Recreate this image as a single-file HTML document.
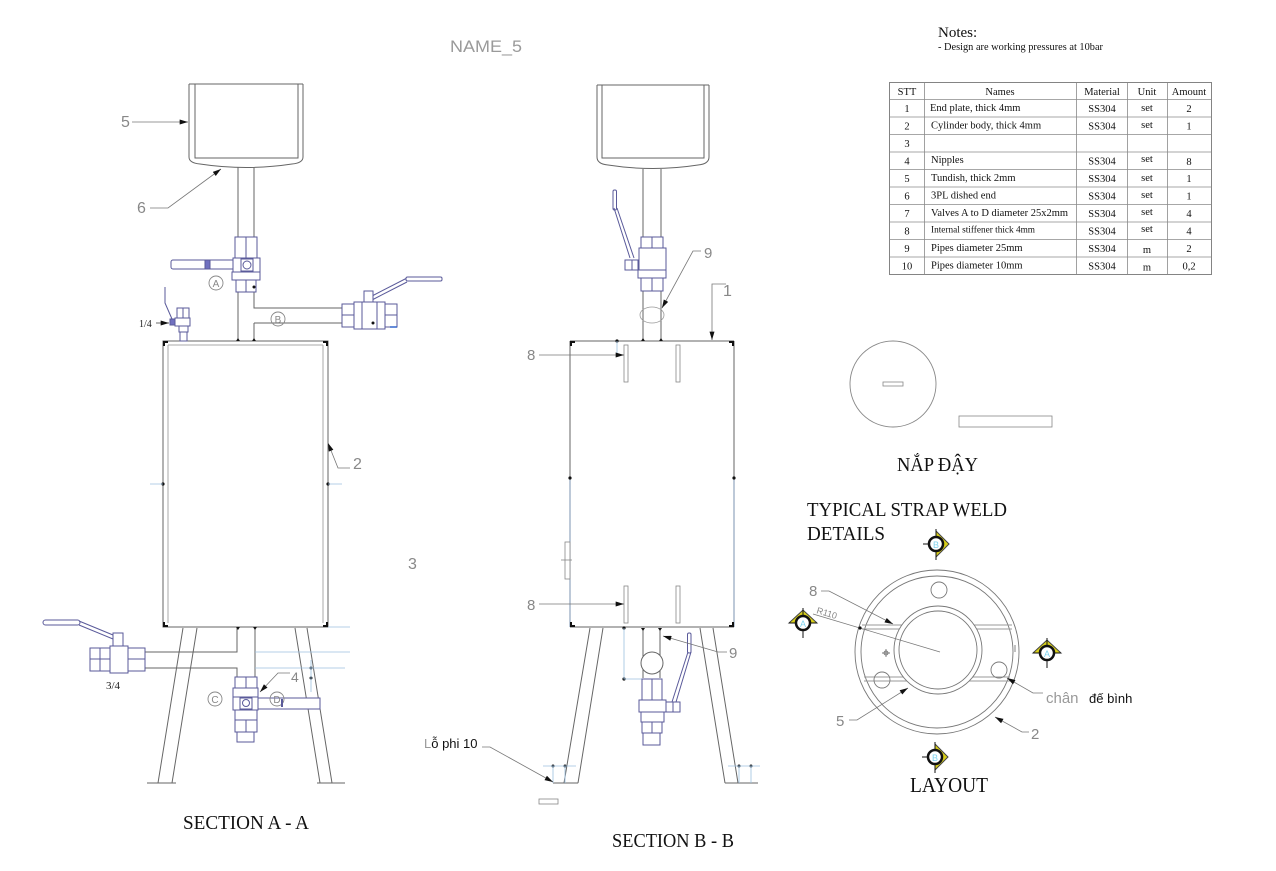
<!DOCTYPE html>
<html><head><meta charset="utf-8"><style>
html,body{margin:0;padding:0;background:#fff;}
svg{display:block;}
.s{font-family:"Liberation Serif","Noto Serif CJK SC",serif;}
.a{font-family:"Liberation Sans","Noto Sans CJK SC",sans-serif;}
</style></head><body>
<svg width="1276" height="871" viewBox="0 0 1276 871" xmlns="http://www.w3.org/2000/svg">
<defs>
<marker id="ar" viewBox="0 0 10 6" refX="10" refY="3" markerWidth="10" markerHeight="5" orient="auto" markerUnits="userSpaceOnUse"><path d="M0,0 L10,3 L0,6 Z" fill="#111"/></marker>
</defs>
<rect width="1276" height="871" fill="#fff"/>

<!-- Title -->
<text x="486" y="52" text-anchor="middle" font-size="17" fill="#9a9a9a" class="a" textLength="72" lengthAdjust="spacingAndGlyphs">NAME_5</text>

<!-- Notes -->
<text x="938" y="37" font-size="15" class="s" fill="#111">Notes:</text>
<text x="938" y="50" font-size="10.5" class="s" fill="#111" textLength="165" lengthAdjust="spacingAndGlyphs">- Design are working pressures at 10bar</text>

<!-- Table -->
<g stroke="#8a8a8a" stroke-width="0.8" fill="none">
<rect x="889.5" y="82.5" width="322" height="192" stroke="#666"/>
<path d="M889.5,99.5H1211.5M889.5,117H1211.5M889.5,134.5H1211.5M889.5,152H1211.5M889.5,169.5H1211.5M889.5,187H1211.5M889.5,204.5H1211.5M889.5,222H1211.5M889.5,239.5H1211.5M889.5,257H1211.5"/>
<path d="M924.5,82.5V274.5M1076.5,82.5V274.5M1127.5,82.5V274.5M1167.5,82.5V274.5"/>
</g>
<g class="s" font-size="10.5" fill="#111">
<g text-anchor="middle">
<text x="907" y="95">STT</text><text x="1000" y="95">Names</text><text x="1102" y="95">Material</text><text x="1147" y="95">Unit</text><text x="1189" y="95">Amount</text>
<text x="907" y="112">1</text><text x="907" y="129.5">2</text><text x="907" y="147">3</text><text x="907" y="164.5">4</text><text x="907" y="182">5</text><text x="907" y="199.5">6</text><text x="907" y="217">7</text><text x="907" y="234.5">8</text><text x="907" y="252">9</text><text x="907" y="269.5">10</text>
<text x="1102" y="112">SS304</text><text x="1102" y="129.5">SS304</text><text x="1102" y="164.5">SS304</text><text x="1102" y="182">SS304</text><text x="1102" y="199.5">SS304</text><text x="1102" y="217">SS304</text><text x="1102" y="234.5">SS304</text><text x="1102" y="252">SS304</text><text x="1102" y="269.5">SS304</text>
<text x="1147" y="111">set</text><text x="1147" y="128">set</text><text x="1147" y="162">set</text><text x="1147" y="181">set</text><text x="1147" y="198">set</text><text x="1147" y="215">set</text><text x="1147" y="232">set</text><text x="1147" y="253">m</text><text x="1147" y="270.5">m</text>
<text x="1189" y="112">2</text><text x="1189" y="129.5">1</text><text x="1189" y="165">8</text><text x="1189" y="182">1</text><text x="1189" y="199.5">1</text><text x="1189" y="217">4</text><text x="1189" y="234.5">4</text><text x="1189" y="252">2</text><text x="1189" y="269.5">0,2</text>
</g>
<text x="930" y="111">End plate, thick 4mm</text>
<text x="931" y="128.5">Cylinder body, thick 4mm</text>
<text x="931" y="163">Nipples</text>
<text x="931" y="181">Tundish, thick 2mm</text>
<text x="931" y="198.5">3PL dished end</text>
<text x="931" y="216" textLength="137" lengthAdjust="spacingAndGlyphs">Valves A to D diameter 25x2mm</text>
<text x="931" y="232.5" font-size="9" textLength="104" lengthAdjust="spacingAndGlyphs">Internal stiffener thick 4mm</text>
<text x="931" y="251">Pipes diameter 25mm</text>
<text x="931" y="268.5">Pipes diameter 10mm</text>
</g>

<!-- ================= SECTION A ================= -->
<g fill="none" stroke="#666" stroke-width="1">
<!-- tundish -->
<path d="M189,84H303M189,84V157Q189,163 200,164Q246,171 292,164Q303,163 303,157V84M195,84V158H298V84"/>
<!-- pipe from tundish -->
<path d="M238,167V237M254,167V237"/>
<!-- pipe to tank, branch -->
<path d="M238,292V341M254,292V308H342M254,323H342M254,323V341"/>
<!-- tank -->
<rect x="163" y="341" width="165" height="286"/>
<path d="M168,345V623M323,345V623M168,345H323" stroke="#aaa"/>
<!-- bottom pipes -->
<path d="M237,627V652H145M145,668H237V677M255,627V677"/>
<!-- legs -->
<path d="M183,628L158,783M197,628L172,783M147,783H176M295,628L320,783M307,628L332,783M317,783H345"/>
</g>
<!-- weld corners A -->
<g fill="#111">
<path d="M163,341h5v2h-3v3h-2z"/><path d="M328,341h-5v2h3v3h2z"/>
<path d="M163,627h5v-2h-3v-3h-2z"/><path d="M328,627h-5v-2h3v-3h2z"/>
<circle cx="163" cy="484" r="1.6"/><circle cx="328" cy="484" r="1.6"/>
<path d="M236,341l2,-3l2,3z"/><path d="M252,341l2,-3l2,3z"/>
<path d="M236,627l2,3l2,-3z"/><path d="M253,627l2,3l2,-3z"/>
<circle cx="311" cy="668" r="1.5"/><circle cx="311" cy="678" r="1.5"/>
</g>
<g stroke="#9cc0e0" stroke-width="0.8" fill="none">
<path d="M150,484H163M328,484H342"/>
<path d="M328,627H350M255,652H350M255,668H345M311,660V692"/>
</g>

<!-- Valve A -->
<g fill="#fff" stroke="#5a5a9a" stroke-width="1">
<rect x="235" y="237" width="22" height="21"/><path d="M246,237V258"/>
<rect x="171" y="260" width="64" height="9" rx="2"/>
<rect x="205" y="260" width="5" height="9" fill="#7070c0"/>
<rect x="233" y="258" width="27" height="14"/>
<rect x="241" y="259" width="12" height="12"/><circle cx="247" cy="265" r="4"/>
<rect x="232" y="272" width="28" height="8"/>
<rect x="236" y="280" width="20" height="12"/><path d="M246,280V292"/>
</g>
<circle cx="254" cy="287" r="1.5" fill="#111"/>
<g fill="none" stroke="#888" stroke-width="0.9">
<circle cx="216" cy="283" r="7"/><circle cx="278" cy="319" r="7"/>
</g>
<text x="216" y="287" font-size="10" text-anchor="middle" class="a" fill="#888">A</text>
<text x="278" y="323" font-size="10" text-anchor="middle" class="a" fill="#888">B</text>

<!-- Valve B -->
<g fill="#fff" stroke="#5a5a9a" stroke-width="1">
<path d="M372,296L407,278M372,300L407,282" fill="none"/>
<rect x="406" y="277" width="36" height="4" rx="1.5"/>
<rect x="364" y="291" width="9" height="13"/>
<rect x="342" y="304" width="12" height="23"/><path d="M342,315H354"/>
<rect x="354" y="302" width="31" height="27"/><path d="M362,302V329M377,302V329"/>
<rect x="385" y="304" width="12" height="23"/><path d="M385,315H397"/>
</g>
<circle cx="373" cy="323" r="1.5" fill="#111"/>
<path d="M390,327H397" stroke="#3366cc" stroke-width="1.5"/>

<!-- 1/4 small valve -->
<g fill="#fff" stroke="#5a5a9a" stroke-width="1">
<path d="M165,287V303L172,319" fill="none"/>
<rect x="177" y="308" width="12" height="10"/><path d="M183,308V318"/>
<rect x="175" y="318" width="15" height="8"/>
<rect x="170" y="319" width="5" height="6" fill="#7070c0"/>
<rect x="179" y="326" width="9" height="6"/>
<rect x="180" y="332" width="7" height="9"/>
</g>
<text x="139" y="327" font-size="10" class="s" fill="#222">1/4</text>
<line x1="156" y1="323" x2="169" y2="323" stroke="#444" stroke-width="0.8" marker-end="url(#ar)"/>

<!-- Valve 3/4 -->
<g fill="#fff" stroke="#5a5a9a" stroke-width="1">
<rect x="43" y="620" width="37" height="5" rx="2.5"/>
<path d="M79,621L113,635M79,625L113,639" fill="none"/>
<rect x="113" y="633" width="10" height="15"/>
<rect x="90" y="648" width="20" height="23"/><path d="M90,659H110M100,648V671"/>
<rect x="110" y="646" width="18" height="27"/>
<rect x="128" y="648" width="17" height="23"/><path d="M128,659H145"/>
</g>
<text x="113" y="689" font-size="11" text-anchor="middle" class="s" fill="#222">3/4</text>

<!-- Valve C/D -->
<g fill="#fff" stroke="#5a5a9a" stroke-width="1">
<rect x="235" y="677" width="22" height="11"/><path d="M246,677V688"/>
<rect x="233" y="688" width="25" height="9"/>
<rect x="258" y="698" width="62" height="11"/>
<rect x="233" y="697" width="25" height="13"/>
<rect x="240" y="698" width="12" height="11"/><circle cx="246" cy="703" r="3.5"/>
<rect x="235" y="720" width="22" height="12"/><path d="M246,720V732M235,710V720M257,710V720"/>
<rect x="237" y="732" width="17" height="10"/>
</g>
<g fill="none" stroke="#888" stroke-width="0.9">
<circle cx="215" cy="699" r="7"/><circle cx="277" cy="699" r="7"/>
</g>
<text x="215" y="703" font-size="10" text-anchor="middle" class="a" fill="#888">C</text>
<text x="277" y="703" font-size="10" text-anchor="middle" class="a" fill="#888">D</text>
<path d="M282,699V707" stroke="#5a5a9a" stroke-width="2"/>

<!-- Labels A -->
<g class="a" fill="#888" font-size="16">
<text x="121" y="127">5</text>
<text x="137" y="213">6</text>
<text x="353" y="469">2</text>
<text x="291" y="682" font-size="14">4</text>
<text x="408" y="569">3</text>
</g>
<g stroke="#777" stroke-width="0.8" fill="none">
<line x1="132" y1="122" x2="188" y2="122" marker-end="url(#ar)"/>
<polyline points="150,208 168,208 221,169" marker-end="url(#ar)"/>
<polyline points="350,468 338,468 328,443" marker-end="url(#ar)"/>
<polyline points="290,673 278,673 260,692" marker-end="url(#ar)"/>
</g>
<text x="183" y="829" font-size="20" class="s" fill="#111" textLength="126" lengthAdjust="spacingAndGlyphs">SECTION A - A</text>

<!-- ================= SECTION B ================= -->
<g fill="none" stroke="#666" stroke-width="1">
<path d="M597,85H709M597,85V157Q597,164 608,165Q653,172 698,165Q709,164 709,157V85M602,85V158H704V85"/>
<path d="M643,169V237M661,169V237"/>
<path d="M643,291V341M661,291V341"/>
<path d="M570,341H734M570,341V478M734,341V478M570,627H734"/>
<path d="M643,628V678M660,628V678"/>
<!-- legs -->
<path d="M590,628L564,783M603,628L578,783M553,783H578M700,628L725,783M713,628L738,783M725,783H758"/>
</g>
<g fill="none" stroke="#7b93b0" stroke-width="1"><path d="M570,478V627M734,478V627"/></g>
<ellipse cx="652" cy="315" rx="12" ry="8" fill="none" stroke="#999" stroke-width="0.8"/>
<g fill="#fff" stroke="#888" stroke-width="0.8">
<rect x="624" y="345" width="4" height="37"/><rect x="676" y="345" width="4" height="37"/>
<rect x="624" y="586" width="4" height="37"/><rect x="676" y="586" width="4" height="37"/>
<rect x="565" y="542" width="5" height="37"/>
</g>
<path d="M561,560H572" stroke="#888" stroke-width="0.8"/>
<circle cx="652" cy="663" r="11" fill="#fff" stroke="#666"/>
<g fill="#111">
<path d="M570,341h5v2h-3v3h-2z"/><path d="M734,341h-5v2h3v3h2z"/>
<path d="M570,627h5v-2h-3v-3h-2z"/><path d="M734,627h-5v-2h3v-3h2z"/>
<circle cx="570" cy="478" r="1.6"/><circle cx="734" cy="478" r="1.6"/>
<circle cx="617" cy="341" r="1.6"/>
<circle cx="624" cy="628" r="1.6"/><circle cx="624" cy="679" r="1.6"/>
<path d="M641,341l2,-3l2,3z"/><path d="M659,341l2,-3l2,3z"/>
<path d="M641,628l2,3l2,-3z"/><path d="M658,628l2,3l2,-3z"/>
<circle cx="553" cy="766" r="1.5"/><circle cx="565" cy="766" r="1.5"/>
<circle cx="739" cy="766" r="1.5"/><circle cx="751" cy="766" r="1.5"/>
</g>
<g stroke="#9cc0e0" stroke-width="0.8" fill="none">
<path d="M617,341V357M624,628V679H643M543,766H576M553,766V783M565,766V783M728,766H760M739,766V783M751,766V783"/>
</g>
<rect x="539" y="799" width="19" height="5" fill="#fff" stroke="#888" stroke-width="0.8"/>

<!-- Valve top B -->
<g fill="#fff" stroke="#5a5a9a" stroke-width="1">
<rect x="613" y="190" width="3.5" height="20" rx="1.5"/>
<path d="M614,208L630,258M617,208L634,258" fill="none"/>
<rect x="641" y="237" width="22" height="11"/><path d="M652,237V248"/>
<rect x="639" y="248" width="27" height="22"/>
<rect x="625" y="260" width="13" height="10"/><path d="M632,260V270"/>
<rect x="638" y="270" width="28" height="8"/>
<rect x="641" y="278" width="22" height="13"/><path d="M652,278V291"/>
</g>
<!-- Valve bottom B -->
<g fill="#fff" stroke="#5a5a9a" stroke-width="1">
<rect x="687.5" y="633" width="3.5" height="20" rx="1.5"/>
<path d="M688,652L672,702M691,652L676,702" fill="none"/>
<rect x="642" y="679" width="20" height="21"/><path d="M652,679V700"/>
<rect x="639" y="700" width="27" height="12"/>
<rect x="666" y="702" width="14" height="10"/><path d="M673,702V712"/>
<rect x="641" y="712" width="23" height="10"/>
<rect x="642" y="722" width="20" height="11"/><path d="M652,722V733"/>
<rect x="643" y="733" width="17" height="12"/>
</g>

<!-- labels B -->
<g class="a" fill="#888" font-size="15">
<text x="527" y="360">8</text>
<text x="527" y="610">8</text>
<text x="704" y="258">9</text>
<text x="729" y="658">9</text>
<text x="723" y="296" font-size="16">1</text>
</g>
<g stroke="#777" stroke-width="0.8" fill="none">
<line x1="539" y1="355" x2="624" y2="355" marker-end="url(#ar)"/>
<line x1="539" y1="604" x2="624" y2="604" marker-end="url(#ar)"/>
<polyline points="701,251 693,251 662,308" marker-end="url(#ar)"/>
<polyline points="726,284 712,284 712,340" marker-end="url(#ar)"/>
<polyline points="727,652 718,652 663,636" marker-end="url(#ar)"/>
<polyline points="482,747 490,747 553,782" marker-end="url(#ar)"/>
</g>
<text x="424" y="748" font-size="13" class="a" fill="#111"><tspan fill="#999">L</tspan>ỗ phi 10</text>
<text x="612" y="847" font-size="20" class="s" fill="#111" textLength="122" lengthAdjust="spacingAndGlyphs">SECTION B - B</text>

<!-- ================= LID ================= -->
<circle cx="893" cy="384" r="43" fill="none" stroke="#888" stroke-width="0.9"/>
<rect x="883" y="382" width="20" height="4" fill="none" stroke="#888" stroke-width="0.8"/>
<rect x="959" y="416" width="93" height="11" fill="none" stroke="#888" stroke-width="0.8"/>
<text x="897" y="471" font-size="20" class="s" fill="#111" textLength="81" lengthAdjust="spacingAndGlyphs">NẮP ĐẬY</text>

<!-- ================= LAYOUT ================= -->
<text x="807" y="516" font-size="20" class="s" fill="#111" textLength="200" lengthAdjust="spacingAndGlyphs">TYPICAL STRAP WELD</text>
<text x="807" y="540" font-size="20" class="s" fill="#111" textLength="78" lengthAdjust="spacingAndGlyphs">DETAILS</text>

<g fill="none" stroke="#777" stroke-width="0.9">
<circle cx="937" cy="652" r="82"/>
<circle cx="937" cy="652" r="76"/>
<path d="M862,625H1012M862,629H1012M864,677H1010M864,681H1010" stroke="#999"/>
</g>
<circle cx="938" cy="650" r="44" fill="#fff" stroke="#777" stroke-width="0.9"/>
<circle cx="938" cy="650" r="39" fill="none" stroke="#777" stroke-width="0.9"/>
<g fill="none" stroke="#777" stroke-width="0.9">
<circle cx="939" cy="590" r="8"/><circle cx="882" cy="680" r="8"/><circle cx="999" cy="670" r="8"/>
<path d="M882,653H890M886,649V657"/><circle cx="886" cy="653" r="2"/>
<path d="M1015,645V652"/>
<line x1="813" y1="614" x2="940" y2="652" stroke-width="0.7"/>
</g>
<circle cx="860" cy="628" r="1.6" fill="#111"/>
<text x="816" y="613" font-size="9" class="a" fill="#888" transform="rotate(17 816 613)">R110</text>

<g class="a" fill="#888" font-size="15">
<text x="809" y="596">8</text>
<text x="836" y="726">5</text>
<text x="1031" y="739">2</text>
</g>
<text x="1046" y="703" font-size="15" class="a" fill="#999">chân</text>
<text x="1089" y="703" font-size="13" class="a" fill="#111">đế bình</text>
<g stroke="#777" stroke-width="0.8" fill="none">
<polyline points="821,591 829,591 893,624" marker-end="url(#ar)"/>
<polyline points="849,720 857,720 908,688" marker-end="url(#ar)"/>
<polyline points="1043,693 1033,693 1007,678" marker-end="url(#ar)"/>
<polyline points="1029,732 1022,732 995,717" marker-end="url(#ar)"/>
</g>

<!-- section markers -->
<g>
<path d="M936,531L949,544L936,557Z" fill="#d8cf1a" stroke="#444" stroke-width="1"/>
<path d="M936,529V560M923,544H936" stroke="#111" stroke-width="1"/>
<circle cx="936" cy="544" r="7" fill="#fff" stroke="#111" stroke-width="2.5"/>
<text x="936" y="548" font-size="9" text-anchor="middle" class="a" fill="#7fd3ee">B</text>
</g>
<g>
<path d="M935,744L948,757L935,770Z" fill="#d8cf1a" stroke="#444" stroke-width="1"/>
<path d="M935,742V773M922,757H935" stroke="#111" stroke-width="1"/>
<circle cx="935" cy="757" r="7" fill="#fff" stroke="#111" stroke-width="2.5"/>
<text x="935" y="761" font-size="9" text-anchor="middle" class="a" fill="#7fd3ee">B</text>
</g>
<g>
<path d="M789,623L803,610L817,623Z" fill="#d8cf1a" stroke="#444" stroke-width="1"/>
<path d="M803,608V638M789,623H817" stroke="#111" stroke-width="1"/>
<circle cx="803" cy="623" r="7" fill="#fff" stroke="#111" stroke-width="2.5"/>
<text x="803" y="627" font-size="9" text-anchor="middle" class="a" fill="#7fd3ee">A</text>
</g>
<g>
<path d="M1033,653L1047,640L1061,653Z" fill="#d8cf1a" stroke="#444" stroke-width="1"/>
<path d="M1047,638V668M1033,653H1061" stroke="#111" stroke-width="1"/>
<circle cx="1047" cy="653" r="7" fill="#fff" stroke="#111" stroke-width="2.5"/>
<text x="1047" y="657" font-size="9" text-anchor="middle" class="a" fill="#7fd3ee">A</text>
</g>

<text x="910" y="792" font-size="21" class="s" fill="#111" textLength="78" lengthAdjust="spacingAndGlyphs">LAYOUT</text>
</svg>
</body></html>
